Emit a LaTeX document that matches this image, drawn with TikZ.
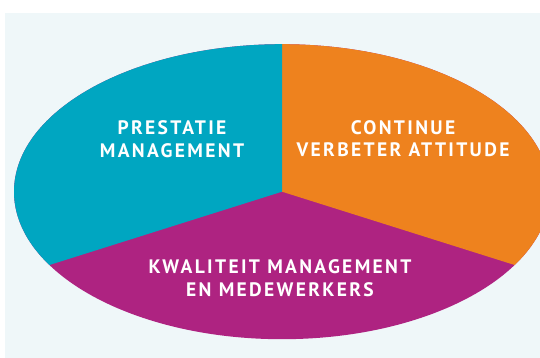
\documentclass[tikz,border=0pt]{standalone}
\usepackage{fontspec}
\newfontfamily\labelfont[LetterSpace=12]{PT Sans}
\definecolor{bgcol}{HTML}{EFF7F9}
\definecolor{tealcol}{HTML}{00A6C1}
\definecolor{orangecol}{HTML}{EE821E}
\definecolor{magentacol}{HTML}{AE2381}
\tikzset{
  seclabel/.style={text=white, align=center, inner sep=0pt,
    font=\labelfont\bfseries\fontsize{19.5}{22.6}\selectfont}
}
\begin{document}
\begin{tikzpicture}[x=1pt,y=-1pt]
\useasboundingbox (0,0) rectangle (540,358);
\fill[white] (0,0) rectangle (540,358);
\fill[bgcol] (5,13) rectangle (540,358);
\begin{scope}
  \clip (0,0) rectangle (540,358);
  \coordinate (C) at (282,191.7);
  \fill[magentacol] (C) ellipse [x radius=268, y radius=147.5];
  \begin{scope}
    \clip (C) -- (282,-10) -- (600,-10) -- (600,291.9) -- cycle;
    \fill[orangecol] (C) ellipse [x radius=268, y radius=147.5];
  \end{scope}
  \begin{scope}
    \clip (C) -- (282,-10) -- (-20,-10) -- (-20,286.9) -- cycle;
    \fill[tealcol] (C) ellipse [x radius=268, y radius=147.5];
  \end{scope}
\end{scope}
\node[seclabel] (prest) at (172,139.3) {PRESTATIE\\MANAGEMENT};
\node[seclabel] (cont) at (403,138.6) {CONTINUE\\VERBETER ATTITUDE};
\node[seclabel] (kwal) at (280,278.4) {KWALITEIT MANAGEMENT\\EN MEDEWERKERS};
\end{tikzpicture}
\end{document}
